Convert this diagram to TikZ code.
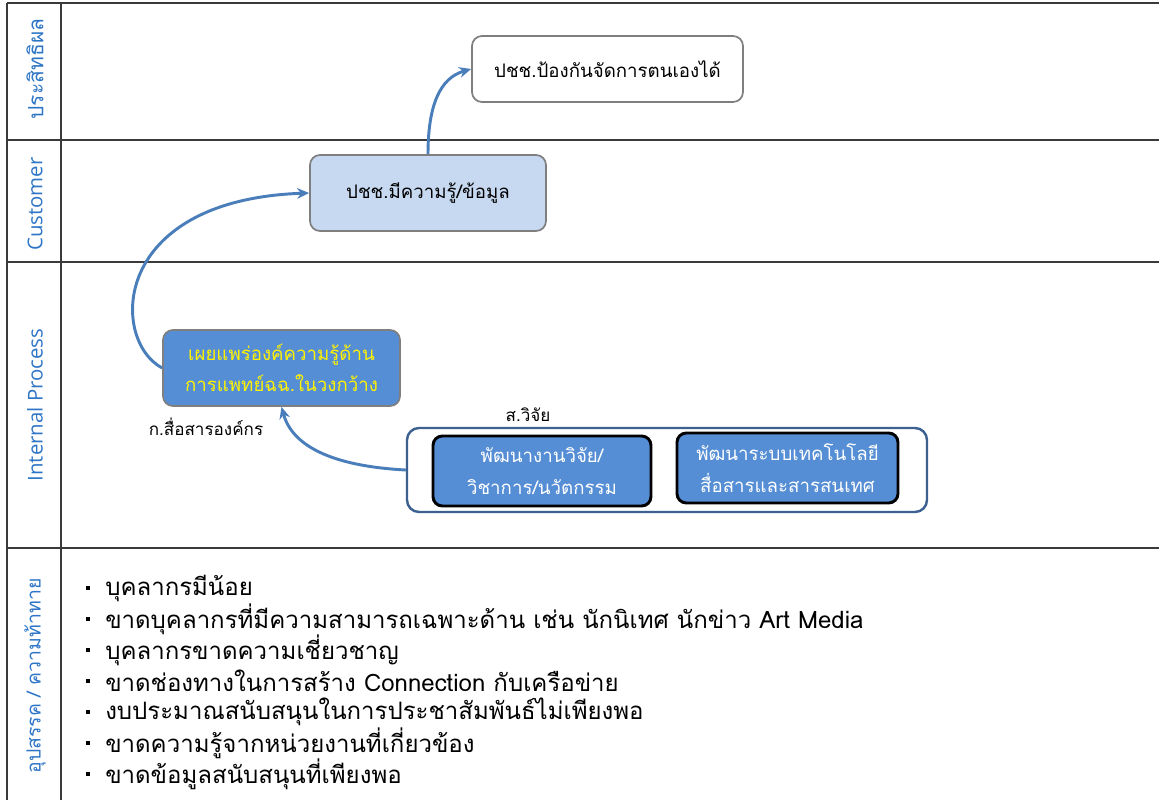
\documentclass[tikz,border=0pt]{standalone}
\usepackage{fontspec}
\setmainfont[Script=Thai]{Loma}
\newfontfamily\latf{Open Sans}
\usetikzlibrary{arrows.meta}
\definecolor{lanetxt}{HTML}{2E75C6}
\definecolor{lightblue}{HTML}{C6D9F1}
\definecolor{midblue}{HTML}{558ED5}
\definecolor{arrowblue}{HTML}{4A7EBB}
\definecolor{contborder}{HTML}{3C6190}
\definecolor{boxgray}{HTML}{7F7F7F}
\definecolor{gridc}{HTML}{3A3A3A}
\tikzset{
  gridline/.style={draw=gridc, line width=1.4pt},
  lanelabel/.style={rotate=90, text=lanetxt, font=\fontsize{15.3}{17}\selectfont, inner sep=0pt},
  rbox/.style={draw=boxgray, line width=1.3pt, rounded corners=7.5pt, inner sep=0pt, align=center, font=\fontsize{14}{23}\selectfont},
  innerbox/.style={draw=black, line width=2.2pt, rounded corners=7pt, inner sep=0pt, align=center, fill=midblue, text=white, font=\fontsize{14}{24}\selectfont},
  flow/.style={draw=arrowblue, line width=2.2pt, -{Stealth[length=9pt,width=8pt]}},
  bul/.style={anchor=west, inner sep=0pt, font=\fontsize{18}{22}\selectfont},
  small/.style={inner sep=0pt, font=\fontsize{12.8}{15}\selectfont}
}
\begin{document}
\begin{tikzpicture}[x=0.75pt,y=-0.75pt]
\useasboundingbox (0,0) rectangle (1159,800);
% grid
\draw[gridline] (7,3) -- (1159,3);
\draw[gridline] (7,140) -- (1159,140);
\draw[gridline] (7,262) -- (1159,262);
\draw[gridline] (7,548) -- (1159,548);
\draw[gridline] (7,3) -- (7,800);
\draw[gridline] (61,3) -- (61,800);
% lane labels
\node[lanelabel, font=\fontsize{15.8}{18}\selectfont] (l1) at (35,69) {ประสิทธิผล};
\node[lanelabel] (l2) at (35,204) {\latf Customer};
\node[lanelabel] (l3) at (35,405) {\latf Internal Process};
\node[lanelabel, font=\fontsize{14.6}{17}\selectfont] (l4) at (35,676) {อุปสรรค / ความท้าทาย};
% boxes
\node[rbox, fill=white, minimum width=203.25pt, minimum height=49.5pt] (b1) at (607.5,69) {ปชช.ป้องกันจัดการตนเองได้};
\node[rbox, fill=lightblue, minimum width=177pt, minimum height=57pt] (b2) at (428,193) {ปชช.มีความรู้/ข้อมูล};
\node[rbox, fill=midblue, text=yellow, minimum width=177.75pt, minimum height=57pt] (b3) at (281.5,368) {เผยแพร่องค์ความรู้ด้าน\\การแพทย์ฉฉ.ในวงกว้าง};
\node[small] (lk) at (206,427) {ก.สื่อสารองค์กร};
\node[draw=contborder, line width=1.8pt, rounded corners=9pt, fill=white, minimum width=390pt, minimum height=63pt, inner sep=0pt] (cont) at (667,470) {};
\node[small] (ls) at (528,415) {ส.วิจัย};
\node[innerbox, minimum width=163.5pt, minimum height=52.5pt] (ia) at (542,471) {พัฒนางานวิจัย/\\วิชาการ/นวัตกรรม};
\node[innerbox, minimum width=165.75pt, minimum height=52.5pt] (ib) at (787.5,468) {พัฒนาระบบเทคโนโลยี\\สื่อสารและสารสนเทศ};
% connectors
\draw[flow] (cont.west) .. controls (330,466) and (292,445) .. (b3.south);
\draw[flow] (b3.west) .. controls (110,340) and (110,200) .. (b2.west);
\draw[flow] (b2.north) .. controls (428,105) and (440,78) .. (b1.west);
% bullets
\foreach \i/\t in {1/{บุคลากรมีน้อย},
                   2/{ขาดบุคลากรที่มีความสามารถเฉพาะด้าน เช่น นักนิเทศ นักข่าว Art Media},
                   3/{บุคลากรขาดความเชี่ยวชาญ},
                   4/{ขาดช่องทางในการสร้าง Connection กับเครือข่าย},
                   5/{งบประมาณสนับสนุนในการประชาสัมพันธ์ไม่เพียงพอ},
                   6/{ขาดความรู้จากหน่วยงานที่เกี่ยวข้อง},
                   7/{ขาดข้อมูลสนับสนุนที่เพียงพอ}}{
  \pgfmathsetmacro{\yy}{588+(\i-1)*31}
  \fill (86,\yy-2) rectangle (90,\yy+2);
  \node[bul] (t\i) at (105,\yy) {\t};
}
\end{tikzpicture}
\end{document}
